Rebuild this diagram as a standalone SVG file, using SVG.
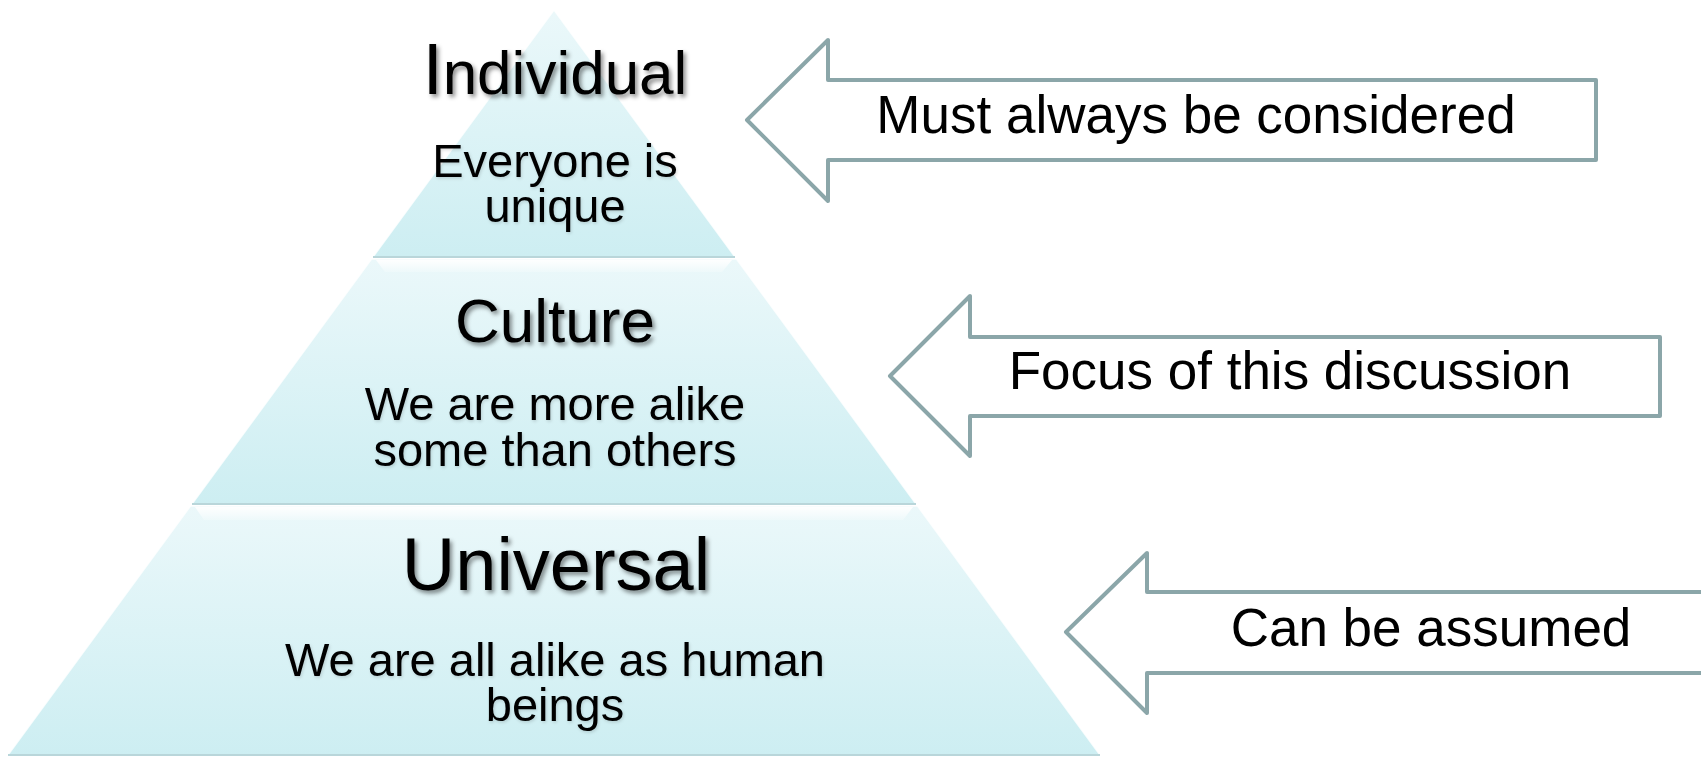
<svg xmlns="http://www.w3.org/2000/svg" width="1701" height="758" viewBox="0 0 1701 758">
  <defs>
    <linearGradient id="tierFill" x1="0" y1="0" x2="0" y2="1">
      <stop offset="0" stop-color="#ebf8fa"/>
      <stop offset="1" stop-color="#cdeef2"/>
    </linearGradient>
    <linearGradient id="gloss" x1="0" y1="0" x2="0" y2="1">
      <stop offset="0" stop-color="#ffffff" stop-opacity="0.95"/>
      <stop offset="1" stop-color="#ffffff" stop-opacity="0.2"/>
    </linearGradient>
    <filter id="shadow" x="-10%" y="-20%" width="130%" height="150%">
      <feDropShadow dx="2.5" dy="3" stdDeviation="2" flood-color="#000000" flood-opacity="0.45"/>
    </filter>
    <filter id="softShadow" x="-10%" y="-20%" width="130%" height="150%">
      <feDropShadow dx="1" dy="1.5" stdDeviation="1.5" flood-color="#000000" flood-opacity="0.15"/>
    </filter>
  </defs>
  <style>
    .tier { fill: url(#tierFill); stroke: #ffffff; stroke-width: 1.5; stroke-opacity: 0.8; }
    .base { stroke: #b9d6da; stroke-width: 2; }
    .gloss { fill: url(#gloss); }
    .title { font-family: "Liberation Sans", Arial, sans-serif; fill: #000; text-anchor: middle; filter: url(#shadow); }
    .sub { font-family: "Liberation Sans", Arial, sans-serif; font-size: 47px; fill: #000; text-anchor: middle; filter: url(#softShadow); }
    .arrow { fill: #ffffff; stroke: #8ba6a9; stroke-width: 4; stroke-linejoin: round; }
    .alabel { font-family: "Liberation Sans", Arial, sans-serif; font-size: 53px; fill: #000; text-anchor: middle; }
  </style>
  <rect width="1701" height="758" fill="#ffffff"/>

  <g id="tier-individual">
    <polygon class="tier" points="554,10 735,257 373,257"/>
    <line class="base" x1="373" y1="257" x2="735" y2="257"/>
    <text class="title" x="555" y="94" font-size="62"><tspan font-size="72">I</tspan>ndividual</text>
    <text class="sub" x="555" y="177">Everyone is<tspan x="555" dy="45">unique</tspan></text>
  </g>

  <g id="tier-culture">
    <polygon class="tier" points="371.5,259 736.5,259 916,504 192,504"/>
    <polygon class="gloss" points="376,260 732,260 722,272 385,272"/>
    <line class="base" x1="192" y1="504" x2="916" y2="504"/>
    <text class="title" x="555" y="342" font-size="62">Culture</text>
    <text class="sub" x="555" y="420">We are more alike<tspan x="555" dy="46">some than others</tspan></text>
  </g>

  <g id="tier-universal">
    <polygon class="tier" points="190.5,506 917.5,506 1100,755 8,755"/>
    <polygon class="gloss" points="195,507 913,507 903,520 204,520"/>
    <line class="base" x1="8" y1="755" x2="1100" y2="755"/>
    <text class="title" x="556" y="590" font-size="74">Universal</text>
    <text class="sub" x="555" y="676">We are all alike as human<tspan x="555" dy="45">beings</tspan></text>
  </g>

  <g id="connectors">
    <g id="arrow-individual">
      <polygon class="arrow" points="747,120 828,40 828,80 1596,80 1596,160 828,160 828,201"/>
      <text class="alabel" x="1196" y="133">Must always be considered</text>
    </g>
    <g id="arrow-culture">
      <polygon class="arrow" points="890,376 970,296 970,337 1660,337 1660,416 970,416 970,456"/>
      <text class="alabel" x="1290" y="389">Focus of this discussion</text>
    </g>
    <g id="arrow-universal">
      <polygon class="arrow" points="1066,632 1147,553 1147,592 1720,592 1720,673 1147,673 1147,713"/>
      <text class="alabel" x="1431" y="646">Can be assumed</text>
    </g>
  </g>
</svg>
